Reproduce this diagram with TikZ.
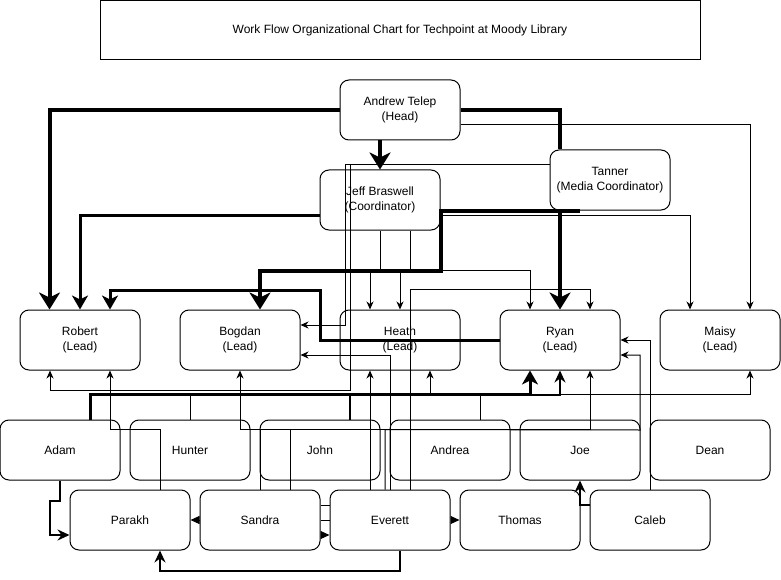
\documentclass[tikz,border=0pt]{standalone}
\usepackage{fontspec}
\setmainfont{Liberation Sans}
\usetikzlibrary{arrows.meta}
\begin{document}
\begin{tikzpicture}[x=1pt,y=-1pt]

	\tikzstyle{box} = [draw, line width=1pt, fill=white, rounded corners=9pt, minimum width=120pt, minimum height=60pt, inner sep=0pt, align=center, font=\fontsize{12}{14.5}\selectfont];
	\tikzstyle{link} = [line width=1pt, -{Stealth[length=8pt,width=7pt,inset=2.5pt]}];
	\tikzstyle{midlink} = [line width=2pt, -{Stealth[length=12pt,width=11pt,inset=4pt]}];
	\tikzstyle{strong} = [line width=3pt, -{Stealth[length=14pt,width=16pt,inset=4pt]}];
	\tikzstyle{heavy} = [line width=4pt, -{Stealth[length=17pt,width=21pt,inset=5pt]}];
	\tikzstyle{peer} = [line width=1pt, -{Triangle[length=9pt,width=8pt]}];

	\useasboundingbox (0,0) rectangle (781,580);

	\node[draw, line width=1pt, minimum width=600pt, minimum height=59pt, font=\fontsize{12}{14.5}\selectfont] (title) at (400,30.5) {Work Flow Organizational Chart for Techpoint at Moody Library};

	\node[box] (andrew) at (400,110) {Andrew Telep\\(Head)};
	\node[box] (jeff) at (380,200) {Jeff Braswell\\(Coordinator)};
	\node[box] (tanner) at (610,180) {Tanner\\(Media Coordinator)};

	\node[box] (robert) at (80,340) {Robert\\(Lead)};
	\node[box, right of=robert, node distance=160pt] (bogdan) {Bogdan\\(Lead)};
	\node[box, right of=bogdan, node distance=160pt] (heath) {Heath\\(Lead)};
	\node[box, right of=heath, node distance=160pt] (ryan) {Ryan\\(Lead)};
	\node[box, right of=ryan, node distance=160pt] (maisy) {Maisy\\(Lead)};

	\node[box] (adam) at (60,450) {Adam};
	\node[box, right of=adam, node distance=130pt] (hunter) {Hunter};
	\node[box, right of=hunter, node distance=130pt] (john) {John};
	\node[box, right of=john, node distance=130pt] (andrea) {Andrea};
	\node[box, right of=andrea, node distance=130pt] (joe) {Joe};
	\node[box, right of=joe, node distance=130pt] (dean) {Dean};

	\node[box] (parakh) at (130,520) {Parakh};
	\node[box, right of=parakh, node distance=130pt] (sandra) {Sandra};
	\node[box, right of=sandra, node distance=130pt] (everett) {Everett};
	\node[box, right of=everett, node distance=130pt] (thomas) {Thomas};
	\node[box, right of=thomas, node distance=130pt] (caleb) {Caleb};

	\draw[heavy] (andrew.west) -| ([xshift=30pt]robert.north west);
	\draw[heavy] ([xshift=-20pt]andrew.south) -- (jeff.north);
	\draw[heavy] (andrew.east) -| (ryan.north |- tanner.north) (ryan.north |- tanner.south) -- (ryan.north);
	\draw[link] ([yshift=-15pt]andrew.east) -| ([xshift=30pt]maisy.north);

	\draw[strong] ([yshift=-15pt]jeff.west) -| (robert.north);
	\draw[link] ([yshift=-15pt]jeff.east) -| ([xshift=-30pt]maisy.north);
	\draw[link] (jeff.south) -- ++(0,40) -| ([xshift=-30pt]heath.north);
	\draw[link] ([xshift=30pt]jeff.south) -- ++(0,40) -| (heath.north);
	\draw[link] ([xshift=30pt]jeff.south) -- ++(0,40) -| ([xshift=-30pt]ryan.north);

	\draw[heavy] ([xshift=-30pt]tanner.south) -- (jeff.east |- tanner.south) -- ++(0,60) -| ([xshift=20pt]bogdan.north);
	\draw[link] ([yshift=15pt]tanner.west) -- (345,165) |- ([yshift=15pt]bogdan.east);
	\draw[link] ([yshift=15pt]tanner.west) -- (350,165) -- (350,390) -| ([xshift=-30pt]robert.south);

	\draw[strong] (ryan.west) -| (320,290) -| ([xshift=30pt]robert.north);

	\draw[strong] ([xshift=30pt]adam.north) -- ++(0,-25) -| ([xshift=-30pt]ryan.south);
	\draw[midlink] ([xshift=30pt]john.north) -- ++(0,-25) -| (ryan.south);
	\draw[link] (hunter.north) -- ++(0,-25) -| ([xshift=30pt]heath.south);
	\draw[link] ([xshift=30pt]andrea.north) -- ++(0,-25) -| ([xshift=30pt]maisy.south);

	\draw[link] ([xshift=30pt]parakh.north) -- ++(0,-60) -| ([xshift=30pt]robert.south);
	\draw[link] ([xshift=30pt]sandra.north) -- ++(0,-60) -| (bogdan.south);
	\draw[link] (sandra.north) -- ++(0,-60) -| ([xshift=30pt]ryan.south);
	\draw[link] ([xshift=-5pt]everett.north) -- ++(0,-60) -- (640,430) |- ([yshift=-15pt]ryan.east);

	\draw[link] (everett.north) |- ([yshift=-15pt]bogdan.east);
	\draw[link] ([xshift=-20pt]everett.north) -- ([xshift=-30pt]heath.south);
	\draw[link] ([xshift=20pt]everett.north) -- ++(0,-200) -| ([xshift=30pt]ryan.north);
	\draw[midlink] ([xshift=10pt]everett.south) -- ++(0,20) -| ([xshift=30pt]parakh.south);

	\draw[link] (caleb.north) |- (ryan.east);
	\draw[midlink] ([yshift=15pt]caleb.west) -| (joe.south);
	\draw[midlink] (adam.south) -- ++(0,20) -- ++(-10,0) |- ([yshift=-15pt]parakh.west);

	\draw[peer] (sandra.west) -- (parakh.east);
	\draw[peer] (everett.east) -- (thomas.west);
	\draw[peer] ([yshift=-15pt]sandra.east) -- ([yshift=-15pt]everett.west);
	\draw[line width=1pt] ([yshift=15pt]sandra.east) -- ([yshift=15pt]everett.west);
	\draw[line width=1pt] (sandra.east) -- (everett.west);

\end{tikzpicture}
\end{document}
